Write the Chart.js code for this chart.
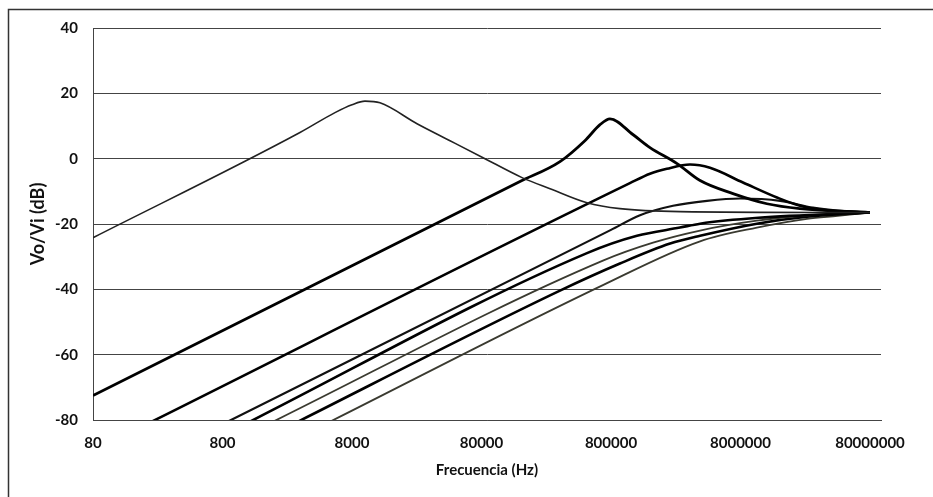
<!DOCTYPE html>
<html><head><meta charset="utf-8">
<script src="https://cdn.jsdelivr.net/npm/chart.js@4.4.1/dist/chart.umd.min.js"></script>
<style>html,body{margin:0;padding:0;background:#fff;}canvas{display:block;}</style>
</head><body>
<canvas id="c" width="933" height="497"></canvas>
<script>
// Frequency (Hz) / gain (dB) pairs for each curve
const f1 = [80, 3172, 5912, 8000, 10074, 13160, 25420, 45700, 82250, 164500, 270600, 522000, 938000, 2730000, 80000000];
const db1 = [-24.2, 8.0, 14.1, 16.5, 17.6, 17.1, 10.7, 5.5, 0.3, -5.8, -9.2, -13.5, -15.3, -16.2, -16.5];
const f2 = [80, 158600, 323000, 503000, 658000, 785000, 1180000, 1600000, 2590000, 3900000, 7000000, 12800000, 23000000, 80000000];
const db2 = [-72.5, -7.0, -0.9, 5.5, 10.4, 12.2, 7.4, 3.4, -1.5, -6.7, -10.7, -13.8, -15.3, -16.5];
const f3 = [200, 1120000, 1600000, 2160000, 3260000, 4650000, 8360000, 15300000, 23000000, 39300000, 80000000];
const db3 = [-81.6, -7.5, -4.6, -3.1, -1.8, -2.8, -7.3, -11.9, -14.4, -15.9, -16.5];
const f4 = [800, 800000, 1340000, 2410000, 4410000, 7930000, 16200000, 29000000, 45000000, 80000000];
const db4 = [-81.3, -21.8, -17.3, -14.4, -12.9, -12.2, -12.9, -15.0, -15.9, -16.5];
const f5 = [1000, 522000, 1270000, 2730000, 3900000, 11000000, 80000000];
const db5 = [-82.8, -28.9, -23.6, -21.1, -19.9, -18.1, -16.5];
const f6 = [1500, 693000, 1690000, 3900000, 10700000, 26100000, 80000000];
const db6 = [-82.8, -31.2, -25.7, -22.0, -19.0, -17.4, -16.5];
const f7 = [2000, 323000, 938000, 2290000, 3900000, 10700000, 26100000, 80000000];
const db7 = [-84.2, -40.4, -32.1, -26.0, -23.6, -19.9, -17.8, -16.5];
const f8 = [5000, 693000, 3900000, 10700000, 26100000, 45000000, 80000000];
const db8 = [-81.2, -38.7, -25.3, -21.1, -18.4, -17.5, -16.5];

const xTicks = [80, 800, 8000, 80000, 800000, 8000000, 80000000];
const yTicks = [-80, -60, -40, -20, 0, 20, 40];

const series = [
  [f1, db1, '#222222', 1.6],
  [f2, db2, '#000000', 2.8],
  [f3, db3, '#000000', 2.6],
  [f4, db4, '#111111', 2.2],
  [f5, db5, '#000000', 2.6],
  [f6, db6, '#3a3a30', 1.8],
  [f7, db7, '#000000', 2.6],
  [f8, db8, '#3a3a30', 1.8]
];

const datasets = series.map(([fx, dy, col, w]) => ({
  data: fx.map((f, i) => ({x: f, y: dy[i]})),
  borderColor: col,
  borderWidth: w,
  pointRadius: 0,
  fill: false,
  cubicInterpolationMode: 'monotone'
}));

const frame = {
  id: 'frame',
  beforeDraw(chart) {
    const ctx = chart.ctx;
    ctx.save();
    ctx.fillStyle = '#fff';
    ctx.fillRect(0, 0, chart.width, chart.height);
    ctx.strokeStyle = '#333';
    ctx.lineWidth = 1.5;
    ctx.beginPath();
    ctx.moveTo(8.5, chart.height);
    ctx.lineTo(8.5, 9.5);
    ctx.lineTo(chart.width, 9.5);
    ctx.stroke();
    ctx.restore();
  }
};

const font = {family: 'Lato', size: 15, weight: 'bold'};
const yTitleFont = {family: 'Lato', size: 18, weight: 'bold'};

new Chart(document.getElementById('c'), {
  type: 'line',
  data: {datasets},
  plugins: [frame],
  options: {
    responsive: false,
    animation: false,
    layout: {padding: {left: 8, top: 28, right: 52, bottom: 0}},
    plugins: {legend: {display: false}, tooltip: {enabled: false}},
    scales: {
      x: {
        type: 'logarithmic',
        min: 80,
        max: 97300000,
        afterBuildTicks(s) { s.ticks = xTicks.map(v => ({value: v})); },
        afterFit(s) { s.height = 77; },
        grid: {display: false, drawTicks: false},
        border: {display: true, color: '#444', width: 1},
        ticks: {color: '#111', font, padding: 14, maxRotation: 0, autoSkip: false,
          callback: v => String(v)},
        title: {display: true, text: 'Frecuencia (Hz)', color: '#111', font, padding: {top: 0, bottom: 18}}
      },
      y: {
        min: -80, max: 40,
        afterBuildTicks(s) { s.ticks = yTicks.map(v => ({value: v})); },
        afterFit(s) { s.width = 85; },
        grid: {color: '#444', lineWidth: 1, drawTicks: false},
        border: {display: true, color: '#444', width: 1},
        ticks: {color: '#111', font, padding: 15, callback: v => String(v)},
        title: {display: true, text: 'Vo/Vi (dB)', color: '#111', font: yTitleFont, padding: {top: 19, bottom: 0}}
      }
    }
  }
});
</script>
</body></html>
